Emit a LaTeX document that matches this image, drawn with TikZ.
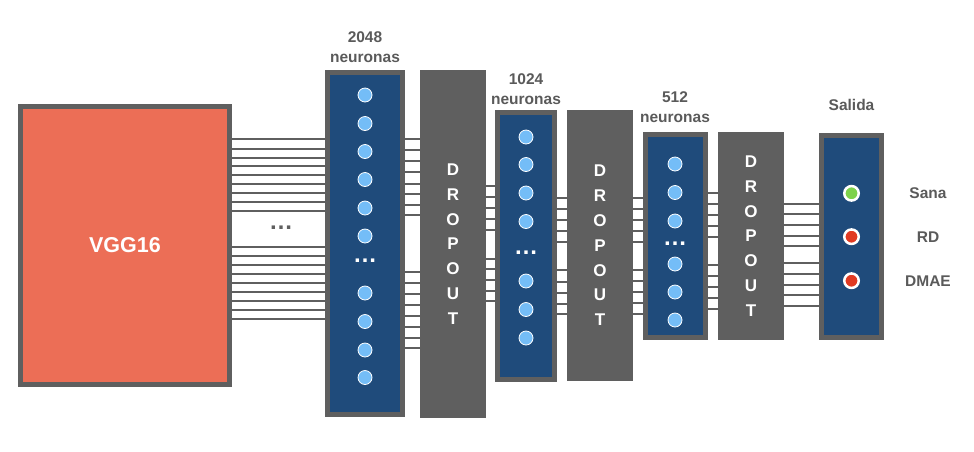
\documentclass[tikz,border=0pt]{standalone}
\usepackage{fontspec}
\setmainfont{Liberation Sans}
\definecolor{boxgray}{HTML}{5F5F5F}
\definecolor{layerblue}{HTML}{1F4B7B}
\definecolor{vggred}{HTML}{EC6E56}
\definecolor{neuronblue}{HTML}{74BDF7}
\definecolor{textgray}{HTML}{5A5A5A}
\definecolor{okgreen}{HTML}{7DD24B}
\definecolor{badred}{HTML}{E03A22}
\begin{document}
\begin{tikzpicture}[x=1pt,y=-1pt,
  layerbox/.style={draw=boxgray,fill=layerblue,line width=5pt,inner sep=0pt},
  dropbox/.style={fill=boxgray,text=white,inner sep=0pt,align=center,font=\bfseries\fontsize{17}{24.8}\selectfont},
  neuron/.style={circle,fill=neuronblue,draw=white,line width=0.8pt,minimum size=14pt,inner sep=0pt},
  outneuron/.style={circle,draw=white,line width=2.5pt,minimum size=14.5pt,inner sep=0pt},
  lbl/.style={text=textgray,align=center,font=\bfseries\fontsize{15.5}{19.5}\selectfont},
  wire/.style={draw=boxgray,line width=2pt},
  dotsgap/.style={font=\bfseries\fontsize{24}{24}\selectfont,inner sep=0pt}]
\useasboundingbox (0,0) rectangle (974,451);
% blocks
\node[draw=boxgray,fill=vggred,line width=5pt,minimum width=209pt,minimum height=278pt,text=white,font=\bfseries\fontsize{21.5}{24}\selectfont] (vgg) at (125,245.5) {VGG16};
\node[layerbox,minimum width=75pt,minimum height=342pt] (l1) at (365,243.5) {};
\node[dropbox,minimum width=66pt,minimum height=348pt] (d1) at (453,244) {D\\R\\O\\P\\O\\U\\T};
\node[layerbox,minimum width=57pt,minimum height=267pt] (l2) at (526,246) {};
\node[dropbox,minimum width=66pt,minimum height=271pt] (d2) at (600,245.5) {D\\R\\O\\P\\O\\U\\T};
\node[layerbox,minimum width=60pt,minimum height=203pt] (l3) at (675.5,236) {};
\node[dropbox,minimum width=66pt,minimum height=208pt] (d3) at (751,236) {D\\R\\O\\P\\O\\U\\T};
\node[layerbox,minimum width=60pt,minimum height=202pt] (out) at (851.5,236.5) {};
% titles
\node[lbl] (t1) at (365,47) {2048\\neuronas};
\node[lbl] (t2) at (526,89) {1024\\neuronas};
\node[lbl] (t3) at (675,107) {512\\neuronas};
\node[lbl] (t4) at (851.5,105) {Salida};
% neurons
\foreach \y [count=\i] in {95,123.5,151.5,179.5,208,236,293,321.5,350,377.5}
  \node[neuron] (l1n\i) at (365,\y) {};
\foreach \y [count=\i] in {137,164.5,193,221.5,281,309.5,338}
  \node[neuron] (l2n\i) at (526,\y) {};
\foreach \y [count=\i] in {164,192.5,221,264,292,320}
  \node[neuron] (l3n\i) at (675,\y) {};
\node[dotsgap,text=white] (l1d) at (365,261) {…};
\node[dotsgap,text=white] (l2d) at (526,253) {…};
\node[dotsgap,text=white] (l3d) at (675,244) {…};
\node[dotsgap,text=boxgray] (g0) at (281,228) {…};
% outputs
\node[outneuron,fill=okgreen] (o1) at (851.5,193.3) {};
\node[outneuron,fill=badred] (o2) at (851.5,236.7) {};
\node[outneuron,fill=badred] (o3) at (851.5,280.7) {};
\node[lbl] (c1) at (928,193.3) {Sana};
\node[lbl] (c2) at (928,236.7) {RD};
\node[lbl] (c3) at (928,280.7) {DMAE};
% wires
\foreach \y in {139,149,157.5,166,175,184,193,202,210.5,247,256,265,274,283,292,301,310,319}
  \draw[wire] (vgg.east |- 0,\y) -- (l1.west |- 0,\y);
\foreach \y in {139,150,161,172,184,193.5,204.5,215,272,283,294,305,316,326.5,337.5,348}
  \draw[wire] (l1.east |- 0,\y) -- (d1.west |- 0,\y);
\foreach \y in {186,197,208,219,229.5,258.5,269,280,291,301}
  \draw[wire] (d1.east |- 0,\y) -- (l2.west |- 0,\y);
\foreach \y in {197.5,209,220,231,241.5,270,281.5,292.5,303.5,314}
  \draw[wire] (l2.east |- 0,\y) -- (d2.west |- 0,\y);
\foreach \y in {197.5,209,220,231,241.5,270,281,291.5,302.5,313.5}
  \draw[wire] (d2.east |- 0,\y) -- (l3.west |- 0,\y);
\foreach \y in {193,203.5,214.5,225.5,236.5,265,276,287,298,308.5}
  \draw[wire] (l3.east |- 0,\y) -- (d3.west |- 0,\y);
\foreach \y in {203.5,214,225,235.5,246,263,273.5,284.5,295,306}
  \draw[wire] (d3.east |- 0,\y) -- (out.west |- 0,\y);
\end{tikzpicture}
\end{document}
